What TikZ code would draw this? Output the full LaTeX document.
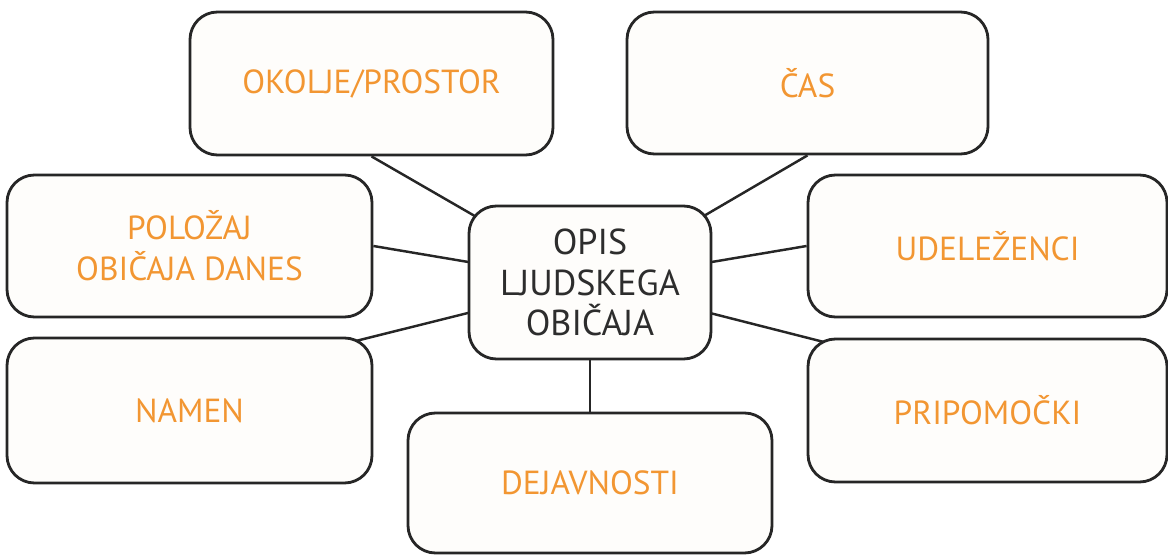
\documentclass[tikz,border=0pt]{standalone}
\usepackage{fontspec}
\setmainfont{PT Sans}
\usetikzlibrary{backgrounds}

\definecolor{oranzna}{RGB}{242,150,50}
\definecolor{obroba}{RGB}{38,38,38}
\definecolor{sivtekst}{RGB}{45,45,45}
\definecolor{polnilo}{RGB}{254,253,251}

\begin{document}
\begin{tikzpicture}[
		polje/.style={draw=obroba, line width=1.6pt, rounded corners=0.55cm, fill=polnilo,
			text=oranzna, align=center, inner sep=0pt,
			font=\fontsize{19}{23.5}\selectfont},
		sredina/.style={polje, text=sivtekst, font=\fontsize{20.5}{23}\selectfont},
		povezava/.style={draw=obroba, line width=1.4pt}]
		
		% page frame
		\useasboundingbox (0,0) rectangle (23.36,11.08);
		
		% central node
		\node[sredina, minimum width=4.84cm, minimum height=3.06cm] (opis) at (11.8,5.43)
		{OPIS\\LJUDSKEGA\\OBIČAJA};
		
		% top row
		\node[polje, minimum width=7.26cm, minimum height=2.86cm] (okolje) at (7.43,9.41) {OKOLJE/PROSTOR};
		\node[polje, minimum width=7.22cm, minimum height=2.84cm] (cas) at (16.15,9.42) {ČAS};
		
		% left column
		\node[polje, minimum width=7.3cm, minimum height=2.84cm] (polozaj) at (3.79,6.16) {POLOŽAJ\\OBIČAJA DANES};
		\node[polje, minimum width=7.3cm, minimum height=2.9cm] (namen) at (3.79,2.87) {NAMEN};
		
		% right column
		\node[polje, minimum width=7.18cm, minimum height=2.84cm] (udelezenci) at (19.75,6.16) {UDELEŽENCI};
		\node[polje, minimum width=7.18cm, minimum height=2.86cm] (pripomocki) at (19.75,2.87) {PRIPOMOČKI};
		
		% bottom
		\node[polje, minimum width=7.28cm, minimum height=2.8cm] (dejavnosti) at (11.8,1.42) {DEJAVNOSTI};
		
		% connectors behind the boxes
		\begin{scope}[on background layer]
			\draw[povezava] (okolje.south) -- (opis.center);
			\draw[povezava] (cas.south) -- (opis.center);
			\draw[povezava] (polozaj.east) -- (opis.center);
			\draw[povezava] (udelezenci.west) -- (opis.center);
			\draw[povezava, shorten <=-0.5cm] (namen.north east) -- (opis.center);
			\draw[povezava, shorten <=-0.5cm] (pripomocki.north west) -- (opis.center);
			\draw[povezava] (dejavnosti.north) -- (opis.center);
		\end{scope}
		
	\end{tikzpicture}
\end{document}
